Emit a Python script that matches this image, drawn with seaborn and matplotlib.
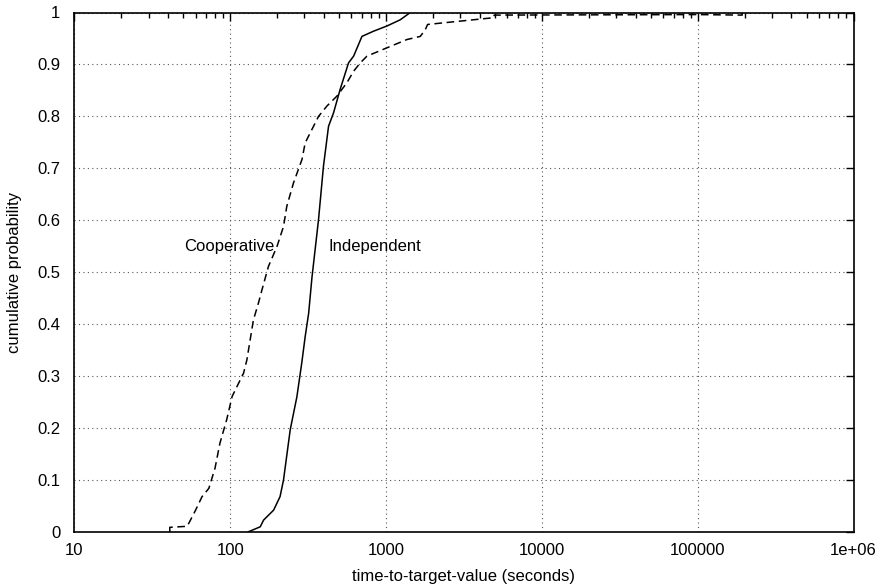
import numpy as np
import pandas as pd
import matplotlib
matplotlib.use("Agg")
import matplotlib.pyplot as plt
import seaborn as sns
from matplotlib.ticker import LogLocator, FixedLocator, NullFormatter

# Independent (solid) empirical CDF
ind_time = [130, 156, 164, 190, 209, 220, 243, 268, 288, 303, 319, 335, 369, 397, 428,
            461, 508, 575, 620, 701, 832, 1014, 1235, 1432]
ind_prob = [0.0, 0.01, 0.023, 0.042, 0.068, 0.10, 0.197, 0.26, 0.325, 0.376, 0.421, 0.49,
            0.601, 0.704, 0.781, 0.807, 0.852, 0.903, 0.916, 0.954, 0.964, 0.974, 0.986, 1.0]

# Cooperative (dashed) empirical CDF
coop_time = [41, 41, 53, 55, 60, 66, 73, 80, 86, 95, 103, 122, 128, 141, 152, 160, 176, 200,
             220, 231, 255, 289, 303, 335, 369, 418, 484, 562, 620, 684, 755, 1014, 1364,
             1660, 1788, 1850, 4910, 4950, 99300, 193000, 193000]
coop_prob = [0.0, 0.009, 0.011, 0.02, 0.042, 0.068, 0.084, 0.123, 0.171, 0.216, 0.261, 0.306,
             0.331, 0.408, 0.441, 0.466, 0.511, 0.55, 0.588, 0.627, 0.672, 0.717, 0.749,
             0.775, 0.80, 0.82, 0.839, 0.865, 0.887, 0.903, 0.916, 0.932, 0.948, 0.954,
             0.967, 0.977, 0.99, 0.995, 0.996, 0.995, 1.0]

x_ticks = [10, 100, 1000, 10000, 100000, 1000000]
x_tick_labels = ["10", "100", "1000", "10000", "100000", "1e+06"]
y_ticks = [0, 0.1, 0.2, 0.3, 0.4, 0.5, 0.6, 0.7, 0.8, 0.9, 1.0]
y_tick_labels = ["0", "0.1", "0.2", "0.3", "0.4", "0.5", "0.6", "0.7", "0.8", "0.9", "1"]

sns.set_theme(style="white")
plt.rcParams["font.family"] = ["Liberation Sans", "DejaVu Sans"]

fig = plt.figure(figsize=(8.83, 5.87), dpi=100)
ax = fig.add_axes([74.3 / 883, 1 - 532 / 587, (853.5 - 74.3) / 883, (532 - 12.5) / 587])

df_ind = pd.DataFrame({"t": ind_time, "p": ind_prob})
df_coop = pd.DataFrame({"t": coop_time, "p": coop_prob})

sns.lineplot(data=df_ind, x="t", y="p", ax=ax, color="black", lw=1.1,
             sort=False, estimator=None)
sns.lineplot(data=df_coop, x="t", y="p", ax=ax, color="black", lw=1.1,
             sort=False, estimator=None, linestyle=(0, (5, 3)))

ax.set_xscale("log")
ax.set_xlim(10, 1e6)
ax.set_ylim(0, 1)
ax.xaxis.set_major_locator(FixedLocator(x_ticks))
ax.set_xticklabels(x_tick_labels)
ax.xaxis.set_minor_locator(LogLocator(base=10, subs=np.arange(2, 10)))
ax.xaxis.set_minor_formatter(NullFormatter())
ax.set_yticks(y_ticks)
ax.set_yticklabels(y_tick_labels)

ax.grid(True, which="major", color="#555555", linestyle=(0, (1, 3)), linewidth=0.8)
ax.tick_params(which="both", direction="in", top=True, right=True, color="black",
               labelsize=12, labelcolor="black")
ax.tick_params(which="major", length=6, width=1)
ax.tick_params(which="minor", length=3.5, width=1)
ax.tick_params(axis="x", pad=8)
ax.tick_params(axis="y", pad=10)
for s in ax.spines.values():
    s.set_color("black")
    s.set_linewidth(1.2)

ax.set_xlabel("time-to-target-value (seconds)", fontsize=12, color="black", labelpad=8)
ax.set_ylabel("cumulative probability", fontsize=12, color="black", labelpad=11)

ax.text(98.6, 0.549, "Cooperative", fontsize=12, ha="center", va="center", color="black")
ax.text(853, 0.549, "Independent", fontsize=12, ha="center", va="center", color="black")

fig.savefig("out.png", dpi=100, facecolor="white")
